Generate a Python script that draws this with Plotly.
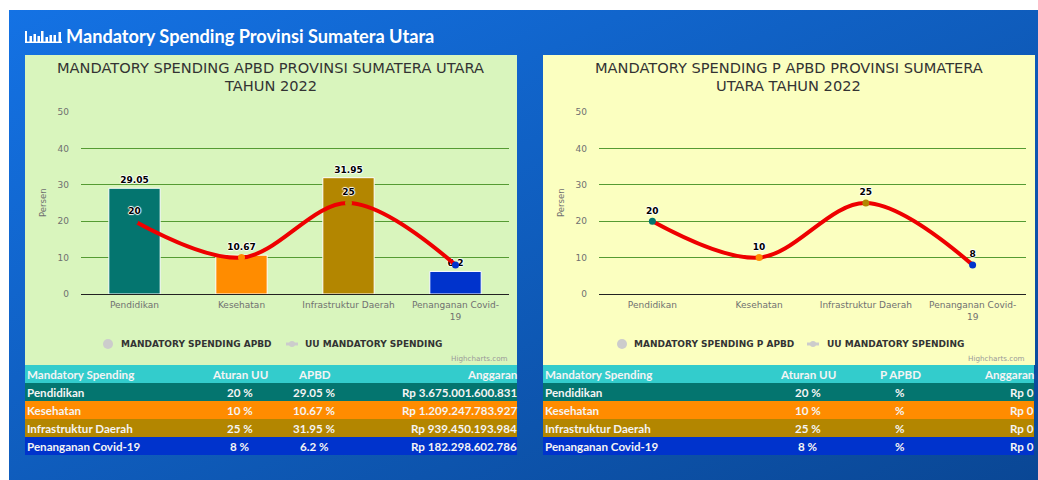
import base64
import plotly.graph_objects as go

W, H = 1038, 480

categories = ["Pendidikan", "Kesehatan", "Infrastruktur Daerah", "Penanganan Covid-19"]
tick_labels = ["Pendidikan", "Kesehatan", "Infrastruktur Daerah", "Penanganan Covid-<br>19"]
apbd_values = [29.05, 10.67, 31.95, 6.2]
uu_values = [20, 10, 25, 8]
uu_labels_left = ["20", "", "25", ""]
uu_labels_right = ["20", "10", "25", "8"]
point_colors = ["#04756F", "#FF8C00", "#B38600", "#0033CC"]
y_ticks = [0, 10, 20, 30, 40, 50]

aturan = ["20 %", "10 %", "25 %", "8 %"]
apbd_pct = ["29.05 %", "10.67 %", "31.95 %", "6.2 %"]
apbd_rp = ["Rp 3.675.001.600.831", "Rp 1.209.247.783.927", "Rp 939.450.193.984", "Rp 182.298.602.786"]
papbd_pct = ["%", "%", "%", "%"]
papbd_rp = ["Rp 0", "Rp 0", "Rp 0", "Rp 0"]

TITLE = "Mandatory Spending Provinsi Sumatera Utara"
LEFT_TITLE = ["MANDATORY SPENDING APBD PROVINSI SUMATERA UTARA", "TAHUN 2022"]
RIGHT_TITLE = ["MANDATORY SPENDING P APBD PROVINSI SUMATERA", "UTARA TAHUN 2022"]

CHART_FONT = "DejaVu Sans"
TABLE_FONT = "Lato"
SHADOW = "1px 0 1px #fff, -1px 0 1px #fff, 0 1px 1px #fff, 0 -1px 1px #fff"
TICK = "#707070"
TXT = "#F4F4F4"


def px(x):
    return x / W


def py(y):
    return 1 - y / H


shapes = []
annotations = []


def rect(x0, y0, x1, y1, color):
    shapes.append(dict(type="rect", xref="paper", yref="paper", x0=px(x0), x1=px(x1),
                       y0=py(y1), y1=py(y0), fillcolor=color, line_width=0, layer="below"))


def label(x, y, text, size, color, anchor="center", font=CHART_FONT, weight=400, angle=0):
    annotations.append(dict(xref="paper", yref="paper", x=px(x), y=py(y), text=text, showarrow=False,
                            xanchor=anchor, yanchor="middle", textangle=angle, borderpad=0,
                            font=dict(family=font, size=size, color=color, weight=weight)))


svg = ('<svg xmlns="http://www.w3.org/2000/svg" width="100" height="100" preserveAspectRatio="none">'
       '<defs><linearGradient id="g" x1="0" y1="0" x2="1" y2="1">'
       '<stop offset="0" stop-color="#1472E4"/><stop offset="1" stop-color="#0A4795"/>'
       '</linearGradient></defs><rect width="100" height="100" fill="url(#g)"/></svg>')
bg_src = "data:image/svg+xml;base64," + base64.b64encode(svg.encode()).decode()

# Icon
for x0, x1, y0 in [(25, 27, 31), (29.5, 32, 36), (33.5, 36, 34), (37.5, 40, 36), (41, 43.5, 31),
                   (45.5, 48, 37), (49.5, 52, 35), (53.5, 56, 35), (58.5, 61, 32)]:
    rect(x0, y0, x1, 42, "#FFFFFF")
rect(25, 41.5, 62, 43, "#FFFFFF")
label(65, 35.5, TITLE, 18.2, "#FFFFFF", "left", TABLE_FONT, 700)


def chart(x_left, x_right, panel0, panel1, panel_color, title, legend1, leg_x, ax, show_bars, bar_name, bar_vals,
          line_labels):
    rect(panel0, 55, panel1, 365, panel_color)
    label((panel0 + panel1) / 2 - 0.5, 68, title[0], 14.6, "#333333")
    label((panel0 + panel1) / 2 - 0.5, 85, title[1], 14.6, "#333333")
    label(x_left - 38, 203, "Persen", 8.5, TICK, angle=-90)
    label(x_right, 358.5, "Highcharts.com", 7.2, "#999999", "right")
    shapes.append(dict(type="circle", xref="paper", yref="paper", x0=px(leg_x[0] - 5), x1=px(leg_x[0] + 5),
                       y0=py(349), y1=py(339), fillcolor="#CCCCCC", line_width=0))
    label(leg_x[1], 344, legend1, 9, "#333333", "left", weight=700)
    shapes.append(dict(type="line", xref="paper", yref="paper", x0=px(leg_x[2] - 6), x1=px(leg_x[2] + 6),
                       y0=py(344), y1=py(344), line=dict(color="#CCCCCC", width=3)))
    shapes.append(dict(type="circle", xref="paper", yref="paper", x0=px(leg_x[2] - 3), x1=px(leg_x[2] + 3),
                       y0=py(347), y1=py(341), fillcolor="#CCCCCC", line_width=0))
    label(leg_x[3], 344, "UU MANDATORY SPENDING", 9, "#333333", "left", weight=700)
    traces = []
    if show_bars:
        traces.append(go.Bar(x=categories, y=bar_vals, name=bar_name, marker=dict(color=point_colors,
                             line=dict(color="#FFFFFF", width=1)), text=[str(v) for v in bar_vals],
                             textposition="outside", cliponaxis=False, xaxis="x" + ax, yaxis="y" + ax,
                             textfont=dict(family=CHART_FONT, size=9, color="#000000", weight=700, shadow=SHADOW)))
    traces.append(go.Scatter(x=categories, y=uu_values, mode="lines+markers+text", name="UU MANDATORY SPENDING",
                             line=dict(color="#EE0000", width=4, shape="spline", smoothing=1.0),
                             marker=dict(color=point_colors, size=7, line_width=0),
                             text=line_labels, textposition="top center", cliponaxis=False,
                             textfont=dict(family=CHART_FONT, size=9, color="#000000", weight=700, shadow=SHADOW),
                             xaxis="x" + ax, yaxis="y" + ax))
    return traces


def table(x0, x1, headers, col_centers, pct, rp):
    rect(x0, 365, x1, 383, "#33CCCC")
    size = 11.6
    label(x0 + 0.5, 374, headers[0], size, TXT, "left", TABLE_FONT, 700)
    label(col_centers[0], 374, headers[1], size, TXT, "center", TABLE_FONT, 700)
    label(col_centers[1], 374, headers[2], size, TXT, "center", TABLE_FONT, 700)
    label(x1 + 1, 374, headers[3], size, TXT, "right", TABLE_FONT, 700)
    for i in range(4):
        y0 = 383 + 18 * i
        rect(x0, y0, x1, y0 + 18, point_colors[i])
        ym = y0 + 9
        label(x0 + 0.5, ym, categories[i], size, TXT, "left", TABLE_FONT, 700)
        label(col_centers[0], ym, aturan[i], size, TXT, "center", TABLE_FONT, 700)
        label(col_centers[1], ym, pct[i], size, TXT, "center", TABLE_FONT, 700)
        label(x1 + 1, ym, rp[i], size, TXT, "right", TABLE_FONT, 700)


traces = chart(81, 509, 25, 517, "#D9F5BD", LEFT_TITLE, "MANDATORY SPENDING APBD",
               (108, 120, 292, 304), "", True, "MANDATORY SPENDING APBD", apbd_values, uu_labels_left)
traces += chart(599, 1026, 543, 1035, "#FBFFC0", RIGHT_TITLE, "MANDATORY SPENDING P APBD",
                (622, 633, 813, 826), "2", False, "", [], uu_labels_right)
table(25, 517, ["Mandatory Spending", "Aturan UU", "APBD", "Anggaran"], (240, 314), apbd_pct, apbd_rp)
table(543, 1034, ["Mandatory Spending", "Aturan UU", "P APBD", "Anggaran"], (808, 900), papbd_pct, papbd_rp)

fig = go.Figure(traces)


def xaxis(x0, x1, anchor):
    return dict(domain=[px(x0), px(x1)], anchor=anchor, type="category", categoryorder="array",
                categoryarray=categories, tickvals=categories, ticktext=tick_labels, showgrid=False,
                showline=True, linecolor="#222222", linewidth=1, ticks="", fixedrange=True, tickangle=0,
                tickfont=dict(family=CHART_FONT, size=9, color=TICK), range=[-0.5, 3.5], zeroline=False,
                ticklabelstandoff=2)


def yaxis(anchor):
    return dict(domain=[py(294), py(112)], anchor=anchor, range=[0, 50], tickvals=y_ticks, showgrid=True,
                gridcolor="#559B33", gridwidth=1, zeroline=False, showline=False, ticks="", fixedrange=True,
                tickfont=dict(family=CHART_FONT, size=9, color=TICK), ticklabelstandoff=11)


fig.update_layout(
    width=W, height=H, margin=dict(l=0, r=0, t=0, b=0, autoexpand=False), autosize=False,
    paper_bgcolor="#FFFFFF", plot_bgcolor="rgba(0,0,0,0)", showlegend=False, bargap=0.52,
    xaxis=xaxis(81, 509, "y"), yaxis=yaxis("x"),
    xaxis2=xaxis(599, 1026, "y2"), yaxis2=yaxis("x2"),
    shapes=shapes, annotations=annotations,
    images=[dict(source=bg_src, xref="paper", yref="paper", x=px(9), y=py(10), sizex=px(W - 9), sizey=1 - 10 / H,
                 sizing="stretch", layer="below", xanchor="left", yanchor="top")],
)

fig.write_html("out.html", post_script="document.body.style.margin='0';document.body.style.overflow='hidden';",
               config=dict(displayModeBar=False))
